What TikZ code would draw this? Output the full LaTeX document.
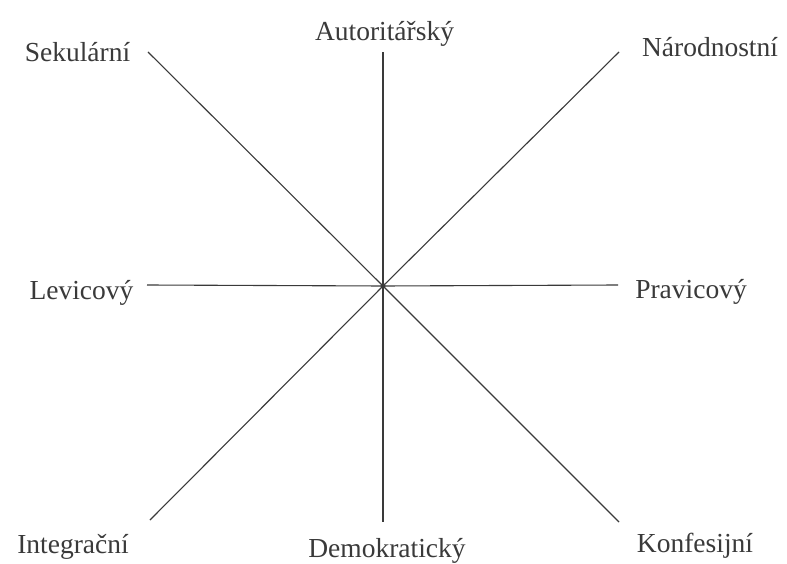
\documentclass[tikz,border=0pt]{standalone}
\usepackage{fontspec}
\setmainfont{Liberation Serif}
\definecolor{ink}{HTML}{3A3A3A}
\begin{document}
\begin{tikzpicture}[x=1pt,y=-1pt,
  lbl/.style={anchor=base,inner sep=0pt,text=ink,font=\fontsize{27.5}{32}\selectfont},
  axis/.style={draw=ink,line width=1.1pt}]
\useasboundingbox[fill=white] (0,0) rectangle (787,564);
\coordinate (c) at (383,286);
\coordinate (nw) at (148,52);
\coordinate (n) at (383,52);
\coordinate (ne) at (619,52);
\coordinate (w) at (147,285);
\coordinate (e) at (618,285);
\coordinate (sw) at (150,520);
\coordinate (s) at (383,522);
\coordinate (se) at (619,522);
\node[lbl] (sek) at (77.5,62) {Sekulární};
\node[lbl] (aut) at (384.5,41) {Autoritářský};
\node[lbl] (nar) at (710,57) {Národnostní};
\node[lbl] (lev) at (81.5,299) {Levicový};
\node[lbl] (pra) at (691,298) {Pravicový};
\node[lbl] (int) at (73,553) {Integrační};
\node[lbl] (dem) at (387,557) {Demokratický};
\node[lbl] (kon) at (695,552) {Konfesijní};
\draw[axis] (c) -- (nw);
\draw[axis] (c) -- (n);
\draw[axis] (c) -- (ne);
\draw[axis] (c) -- (w);
\draw[axis] (c) -- (e);
\draw[axis] (c) -- (sw);
\draw[axis] (c) -- (s);
\draw[axis] (c) -- (se);
\fill[ink] (c) circle (2.5);
\end{tikzpicture}
\end{document}
